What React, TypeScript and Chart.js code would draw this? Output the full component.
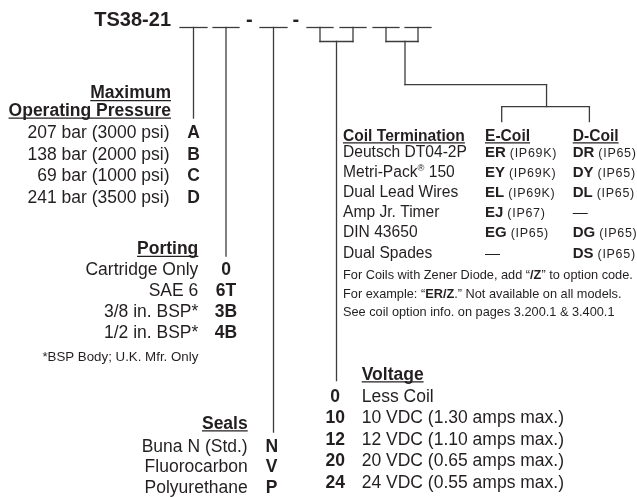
import React, { useEffect, useRef } from "react";
import { Chart, registerables } from "chart.js";

Chart.register(...registerables);

// ---------------- DATA ----------------
const modelCode = "TS38-21";

const pressureHeading = ["Maximum", "Operating Pressure"];
const pressureLabels = ["207 bar (3000 psi)", "138 bar (2000 psi)", "69 bar (1000 psi)", "241 bar (3500 psi)"];
const pressureCodes = ["A", "B", "C", "D"];

const portingHeading = "Porting";
const portingLabels = ["Cartridge Only", "SAE 6", "3/8 in. BSP*", "1/2 in. BSP*"];
const portingCodes = ["0", "6T", "3B", "4B"];
const portingNote = "*BSP Body; U.K. Mfr. Only";

const sealsHeading = "Seals";
const sealLabels = ["Buna N (Std.)", "Fluorocarbon", "Polyurethane"];
const sealCodes = ["N", "V", "P"];

const voltageHeading = "Voltage";
const voltageCodes = ["0", "10", "12", "20", "24"];
const voltageLabels = [
  "Less Coil",
  "10 VDC (1.30 amps max.)",
  "12 VDC (1.10 amps max.)",
  "20 VDC (0.65 amps max.)",
  "24 VDC (0.55 amps max.)",
];

const coilHeadings = ["Coil Termination", "E-Coil", "D-Coil"];
const coilTerminations = ["Deutsch DT04-2P", "Metri-Pack® 150", "Dual Lead Wires", "Amp Jr. Timer", "DIN 43650", "Dual Spades"];
const eCoilCodes = ["ER", "EY", "EL", "EJ", "EG", "—"];
const eCoilRatings = ["(IP69K)", "(IP69K)", "(IP69K)", "(IP67)", "(IP65)", ""];
const dCoilCodes = ["DR", "DY", "DL", "—", "DG", "DS"];
const dCoilRatings = ["(IP65)", "(IP65)", "(IP65)", "", "(IP65)", "(IP65)"];
const coilNotes = [
  "For Coils with Zener Diode, add “**/Z**” to option code.",
  "For example: “**ER/Z**.” Not available on all models.",
  "See coil option info. on pages 3.200.1 & 3.400.1",
];

// ---------------- LAYOUT (axis units = page pixels) ----------------
const W = 637;
const H = 497;
const INK = "#231f20";
const LINE = "#3c3c3c";
const FONT = '"Liberation Sans", Arial, Helvetica, sans-serif';

const LAYOUT = {
  title: { x: 171, y: 25.5, size: 20 },
  blankY: 27.5,
  blanks: [
    [180, 207],
    [213, 239],
    [260, 287],
    [307, 333],
    [340, 366],
    [373, 399],
    [405, 431],
  ],
  dashX: [249.3, 295.8],
  bracketY: 41.5,
  pressure: { headY: [98.3, 115.7], headRight: 171, labelRight: 169.5, rowY0: 138, dy: 21.5, lineEnd: 118 },
  porting: { headY: 254, right: 198.3, rowY0: 274.5, dy: 21.3, noteY: 361, lineEnd: 256 },
  seals: { headY: 428.5, right: 247.7, rowY0: 451.5, dy: 20.8, lineEnd: 432, codeShift: -1.8 },
  voltage: { headY: 379.5, left: 361.7, rowY0: 401.5, dy: 21.5, lineEnd: 380.5, codeShift: -1.3 },
  coil: {
    feedY: 84.7,
    splitY: 106.7,
    dropEnd: 121.7,
    dropOffset: 16.7,
    colX: [343, 485, 572.7],
    headY: 140.5,
    rowY0: 157,
    dy: 20.1,
    noteY0: 279,
    noteDy: 18.5,
  },
  sizes: { body: 17.5, table: 15.6, code: 15, rating: 12.5, note: 12.75, foot: 13.3 },
};

// ---------------- CONNECTOR GEOMETRY (derived from layout) ----------------
const center = (b: number[]) => (b[0] + b[1]) / 2;
type Seg = [number, number, number, number];

function buildSegments(): Seg[] {
  const L = LAYOUT;
  const segs: Seg[] = [];
  const by = L.blankY;
  L.blanks.forEach((b) => segs.push([b[0], by, b[1], by]));
  const c = L.blanks.map(center);
  segs.push([c[0], by, c[0], L.pressure.lineEnd]);
  segs.push([c[1], by, c[1], L.porting.lineEnd]);
  segs.push([c[2], by, c[2], L.seals.lineEnd]);
  // voltage bracket
  segs.push([c[3], by, c[3], L.bracketY]);
  segs.push([c[4], by, c[4], L.bracketY]);
  segs.push([c[3], L.bracketY, c[4], L.bracketY]);
  const vMid = (c[3] + c[4]) / 2;
  segs.push([vMid, L.bracketY, vMid, L.voltage.lineEnd]);
  // coil bracket
  segs.push([c[5], by, c[5], L.bracketY]);
  segs.push([c[6], by, c[6], L.bracketY]);
  segs.push([c[5], L.bracketY, c[6], L.bracketY]);
  const kMid = (c[5] + c[6]) / 2 + 3;
  const eX = L.coil.colX[1] + L.coil.dropOffset;
  const dX = L.coil.colX[2] + L.coil.dropOffset;
  const split = (eX + dX) / 2 + 1;
  segs.push([kMid, L.bracketY, kMid, L.coil.feedY]);
  segs.push([kMid, L.coil.feedY, split, L.coil.feedY]);
  segs.push([split, L.coil.feedY, split, L.coil.splitY]);
  segs.push([eX, L.coil.splitY, dX, L.coil.splitY]);
  segs.push([eX, L.coil.splitY, eX, L.coil.dropEnd]);
  segs.push([dX, L.coil.splitY, dX, L.coil.dropEnd]);
  return segs;
}

// ---------------- TEXT DRAWING ----------------
type Opt = { size: number; bold?: boolean; align?: "left" | "right" | "center"; underline?: boolean; spacing?: number };

function pieces(text: string, bold: boolean) {
  const out: { t: string; b: boolean; sup: boolean }[] = [];
  const parts = text.split("**");
  parts.forEach((p, i) => {
    const b = i % 2 === 1 ? !bold : bold;
    const sub = p.split("®");
    sub.forEach((s, j) => {
      if (s) out.push({ t: s, b, sup: false });
      if (j < sub.length - 1) out.push({ t: "®", b, sup: true });
    });
  });
  return out;
}

function setFont(ctx: CanvasRenderingContext2D, size: number, bold: boolean, spacing: number) {
  ctx.font = `${bold ? "bold " : ""}${size}px ${FONT}`;
  (ctx as any).letterSpacing = `${spacing}px`;
}

function drawText(ctx: CanvasRenderingContext2D, text: string, x: number, y: number, o: Opt): number {
  const ps = pieces(text, !!o.bold);
  const sp = o.spacing || 0;
  let total = 0;
  const widths = ps.map((p) => {
    const s = p.sup ? o.size * 0.6 : o.size;
    setFont(ctx, s, p.b, sp);
    const w = ctx.measureText(p.t).width;
    total += w;
    return w;
  });
  let cx = x;
  if (o.align === "right") cx = x - total;
  else if (o.align === "center") cx = x - total / 2;
  const start = cx;
  ctx.textAlign = "left";
  ps.forEach((p, i) => {
    const s = p.sup ? o.size * 0.6 : o.size;
    setFont(ctx, s, p.b, sp);
    ctx.fillText(p.t, cx, p.sup ? y - o.size * 0.38 : y);
    cx += widths[i];
  });
  if (o.underline) {
    ctx.save();
    ctx.strokeStyle = INK;
    ctx.lineWidth = 1.3;
    ctx.beginPath();
    ctx.moveTo(start, y + 2.4);
    ctx.lineTo(start + total, y + 2.4);
    ctx.stroke();
    ctx.restore();
  }
  return total;
}

const textPlugin = {
  id: "orderCodeText",
  afterDatasetsDraw(chart: any) {
    const ctx: CanvasRenderingContext2D = chart.ctx;
    const X = (v: number) => chart.scales.x.getPixelForValue(v);
    const Y = (v: number) => chart.scales.y.getPixelForValue(v);
    const L = LAYOUT;
    const S = L.sizes;
    const c = L.blanks.map(center);
    ctx.save();
    ctx.fillStyle = INK;
    ctx.textBaseline = "alphabetic";

    // title + dashes
    drawText(ctx, modelCode, X(L.title.x), Y(L.title.y), { size: L.title.size, bold: true, align: "right" });
    L.dashX.forEach((dx) => drawText(ctx, "-", X(dx), Y(L.title.y), { size: L.title.size, bold: true, align: "center" }));

    // pressure
    pressureHeading.forEach((h, i) =>
      drawText(ctx, h, X(L.pressure.headRight), Y(L.pressure.headY[i]), { size: S.body, bold: true, align: "right", underline: true })
    );
    pressureLabels.forEach((lab, i) => {
      const y = Y(L.pressure.rowY0 + i * L.pressure.dy);
      drawText(ctx, lab, X(L.pressure.labelRight), y, { size: S.body, align: "right" });
      drawText(ctx, pressureCodes[i], X(c[0]), y, { size: S.body, bold: true, align: "center" });
    });

    // porting
    drawText(ctx, portingHeading, X(L.porting.right), Y(L.porting.headY), { size: S.body, bold: true, align: "right", underline: true });
    portingLabels.forEach((lab, i) => {
      const y = Y(L.porting.rowY0 + i * L.porting.dy);
      drawText(ctx, lab, X(L.porting.right), y, { size: S.body, align: "right" });
      drawText(ctx, portingCodes[i], X(c[1]), y, { size: S.body, bold: true, align: "center" });
    });
    drawText(ctx, portingNote, X(L.porting.right), Y(L.porting.noteY), { size: S.foot, align: "right" });

    // seals
    drawText(ctx, sealsHeading, X(L.seals.right), Y(L.seals.headY), { size: S.body, bold: true, align: "right", underline: true });
    sealLabels.forEach((lab, i) => {
      const y = Y(L.seals.rowY0 + i * L.seals.dy);
      drawText(ctx, lab, X(L.seals.right), y, { size: S.body, align: "right" });
      drawText(ctx, sealCodes[i], X(c[2] + L.seals.codeShift), y, { size: S.body, bold: true, align: "center" });
    });

    // voltage
    const vMid = (c[3] + c[4]) / 2 + L.voltage.codeShift;
    drawText(ctx, voltageHeading, X(L.voltage.left), Y(L.voltage.headY), { size: S.body, bold: true, underline: true });
    voltageLabels.forEach((lab, i) => {
      const y = Y(L.voltage.rowY0 + i * L.voltage.dy);
      drawText(ctx, voltageCodes[i], X(vMid), y, { size: S.body, bold: true, align: "center" });
      drawText(ctx, lab, X(L.voltage.left), y, { size: S.body });
    });

    // coil table
    const cx = L.coil.colX;
    coilHeadings.forEach((h, i) =>
      drawText(ctx, h, X(cx[i]), Y(L.coil.headY), { size: S.table, bold: true, underline: true })
    );
    coilTerminations.forEach((lab, i) => {
      const y = Y(L.coil.rowY0 + i * L.coil.dy);
      drawText(ctx, lab, X(cx[0]), y, { size: S.table });
      const ew = drawText(ctx, eCoilCodes[i], X(cx[1]), y, { size: S.code, bold: eCoilCodes[i] !== "—" });
      if (eCoilRatings[i]) drawText(ctx, eCoilRatings[i], X(cx[1]) + ew + 4, y, { size: S.rating, spacing: 0.7 });
      const dw = drawText(ctx, dCoilCodes[i], X(cx[2]), y, { size: S.code, bold: dCoilCodes[i] !== "—" });
      if (dCoilRatings[i]) drawText(ctx, dCoilRatings[i], X(cx[2]) + dw + 4, y, { size: S.rating, spacing: 0.7 });
    });
    coilNotes.forEach((n, i) => {
      drawText(ctx, n, X(cx[0]), Y(L.coil.noteY0 + i * L.coil.noteDy), { size: S.note });
    });

    ctx.restore();
  },
};

export default function App() {
  const ref = useRef<HTMLCanvasElement | null>(null);
  useEffect(() => {
    document.body.style.margin = "0";
    const canvas = ref.current;
    if (!canvas) return;
    const segs = buildSegments();
    const chart = new Chart(canvas, {
      type: "scatter",
      data: {
        datasets: segs.map((s) => ({
          data: [
            { x: s[0], y: s[1] },
            { x: s[2], y: s[3] },
          ],
          showLine: true,
          borderColor: LINE,
          borderWidth: 1.3,
          pointRadius: 0,
          pointHoverRadius: 0,
          fill: false,
          borderCapStyle: "square" as const,
        })),
      },
      options: {
        animation: false,
        responsive: false,
        maintainAspectRatio: false,
        devicePixelRatio: 1,
        layout: { padding: 0 },
        events: [],
        plugins: { legend: { display: false }, tooltip: { enabled: false } },
        scales: {
          x: { type: "linear", min: 0, max: W, display: false },
          y: { type: "linear", min: 0, max: H, reverse: true, display: false },
        },
      },
      plugins: [textPlugin],
    });
    return () => chart.destroy();
  }, []);
  return (
    <div style={{ position: "absolute", left: 0, top: 0, width: W, height: H, background: "#fff" }}>
      <canvas ref={ref} width={W} height={H} style={{ display: "block", width: W, height: H }} />
    </div>
  );
}
